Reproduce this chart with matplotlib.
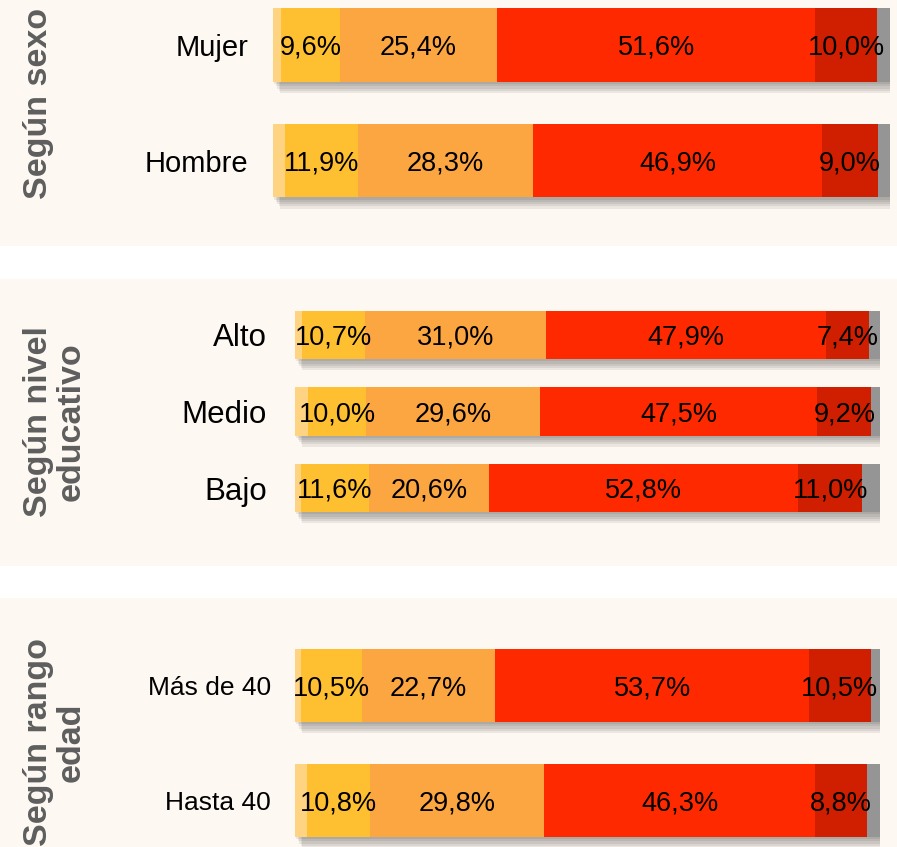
import matplotlib.pyplot as plt
from matplotlib.patches import Rectangle
import matplotlib.patheffects as pe

plt.rcParams['font.family'] = ['Liberation Sans', 'DejaVu Sans']

# Data (percent), segments from left to right
sexo_cats = ['Mujer', 'Hombre']
sexo_ns = [1.3, 1.9]          # thin light segment (no label)
sexo_muy_bajo = [9.6, 11.9]
sexo_bajo = [25.4, 28.3]
sexo_alto = [51.6, 46.9]
sexo_muy_alto = [10.0, 9.0]
sexo_nc = [2.1, 2.0]          # grey tail (no label)

edu_cats = ['Alto', 'Medio', 'Bajo']
edu_ns = [1.2, 2.2, 1.0]
edu_muy_bajo = [10.7, 10.0, 11.6]
edu_bajo = [31.0, 29.6, 20.6]
edu_alto = [47.9, 47.5, 52.8]
edu_muy_alto = [7.4, 9.2, 11.0]
edu_nc = [1.8, 1.5, 3.0]

edad_cats = ['Más de 40', 'Hasta 40']
edad_ns = [1.0, 2.0]
edad_muy_bajo = [10.5, 10.8]
edad_bajo = [22.7, 29.8]
edad_alto = [53.7, 46.3]
edad_muy_alto = [10.5, 8.8]
edad_nc = [1.6, 2.3]

colors = ['#fed381', '#fec030', '#fca642', '#ff2900', '#cf1e00', '#959595']
labelled = [False, True, True, True, True, False]
bg = '#fdf8f2'
title_color = '#5e5e5e'

W, H = 897, 847
fig = plt.figure(figsize=(W / 100, H / 100), dpi=100)
fig.patch.set_facecolor('white')


def px_rect(x0, y0, x1, y1):
    # pixel box (top-left origin) -> figure fraction [left, bottom, w, h]
    return [x0 / W, 1 - y1 / H, (x1 - x0) / W, (y1 - y0) / H]


# beige panels
for y0, y1 in [(0, 246), (279, 566), (598, 847)]:
    fig.patches.append(Rectangle((0, 1 - y1 / H), 1, (y1 - y0) / H,
                                 transform=fig.transFigure, facecolor=bg,
                                 edgecolor='none', zorder=-5))


def plot_panel(box, cats, series, height, cat_size, pad_px):
    ax = fig.add_axes(px_rect(*box))
    ax.set_facecolor('none')
    ax.set_zorder(2)
    y = list(range(len(cats)))
    totals = [sum(s[i] for s in series) for i in y]

    # soft drop shadow
    shadow = [pe.SimplePatchShadow(offset=(o, -o * 1.6), shadow_rgbFace='k', alpha=0.07)
              for o in (1, 2, 3, 4, 5)]
    ax.barh(y, totals, height=height, color='#999999',
            path_effects=shadow + [pe.Normal()], zorder=1)

    left = [0.0] * len(cats)
    for s, c, lab in zip(series, colors, labelled):
        ax.barh(y, s, left=left, height=height, color=c, edgecolor='none', zorder=2)
        if lab:
            for i, v in enumerate(s):
                ax.annotate('{0:.1f}%'.format(v).replace('.', ','), (left[i] + v / 2, i),
                            xytext=(0, -2), textcoords='offset points',
                            ha='center', va='center', fontsize=19.5, color='black',
                            zorder=3)
        left = [l + v for l, v in zip(left, s)]

    ax.set_xlim(0, max(totals))
    ax.set_ylim(len(cats) - 0.5, -0.5)
    ax.set_yticks(y)
    ax.set_yticklabels(cats, fontsize=cat_size)
    ax.tick_params(axis='y', length=0, pad=pad_px * 0.72)
    ax.set_xticks([])
    for sp in ax.spines.values():
        sp.set_visible(False)
    return ax


plot_panel((273, -12.75, 890, 218.25), sexo_cats,
           [sexo_ns, sexo_muy_bajo, sexo_bajo, sexo_alto, sexo_muy_alto, sexo_nc],
           0.64, 21, 25)
plot_panel((295, 296.75, 880, 526.25), edu_cats,
           [edu_ns, edu_muy_bajo, edu_bajo, edu_alto, edu_muy_alto, edu_nc],
           0.63, 22.5, 28)
plot_panel((295, 628, 880, 858), edad_cats,
           [edad_ns, edad_muy_bajo, edad_bajo, edad_alto, edad_muy_alto, edad_nc],
           0.635, 19, 24)

# rotated group titles
fig.text(38 / W, 1 - 103 / H, 'Según sexo', rotation=90, ha='center', va='center',
         fontsize=24.5, fontweight='bold', color=title_color)
fig.text(55 / W, 1 - 422 / H, 'Según nivel\neducativo', rotation=90, ha='center',
         va='center', fontsize=24.5, fontweight='bold', color=title_color,
         linespacing=1.05, multialignment='center')
fig.text(55 / W, 1 - 742 / H, 'Según rango\nedad', rotation=90, ha='center',
         va='center', fontsize=24.5, fontweight='bold', color=title_color,
         linespacing=1.05, multialignment='center')

fig.savefig('out.png', dpi=100, facecolor=fig.get_facecolor())
